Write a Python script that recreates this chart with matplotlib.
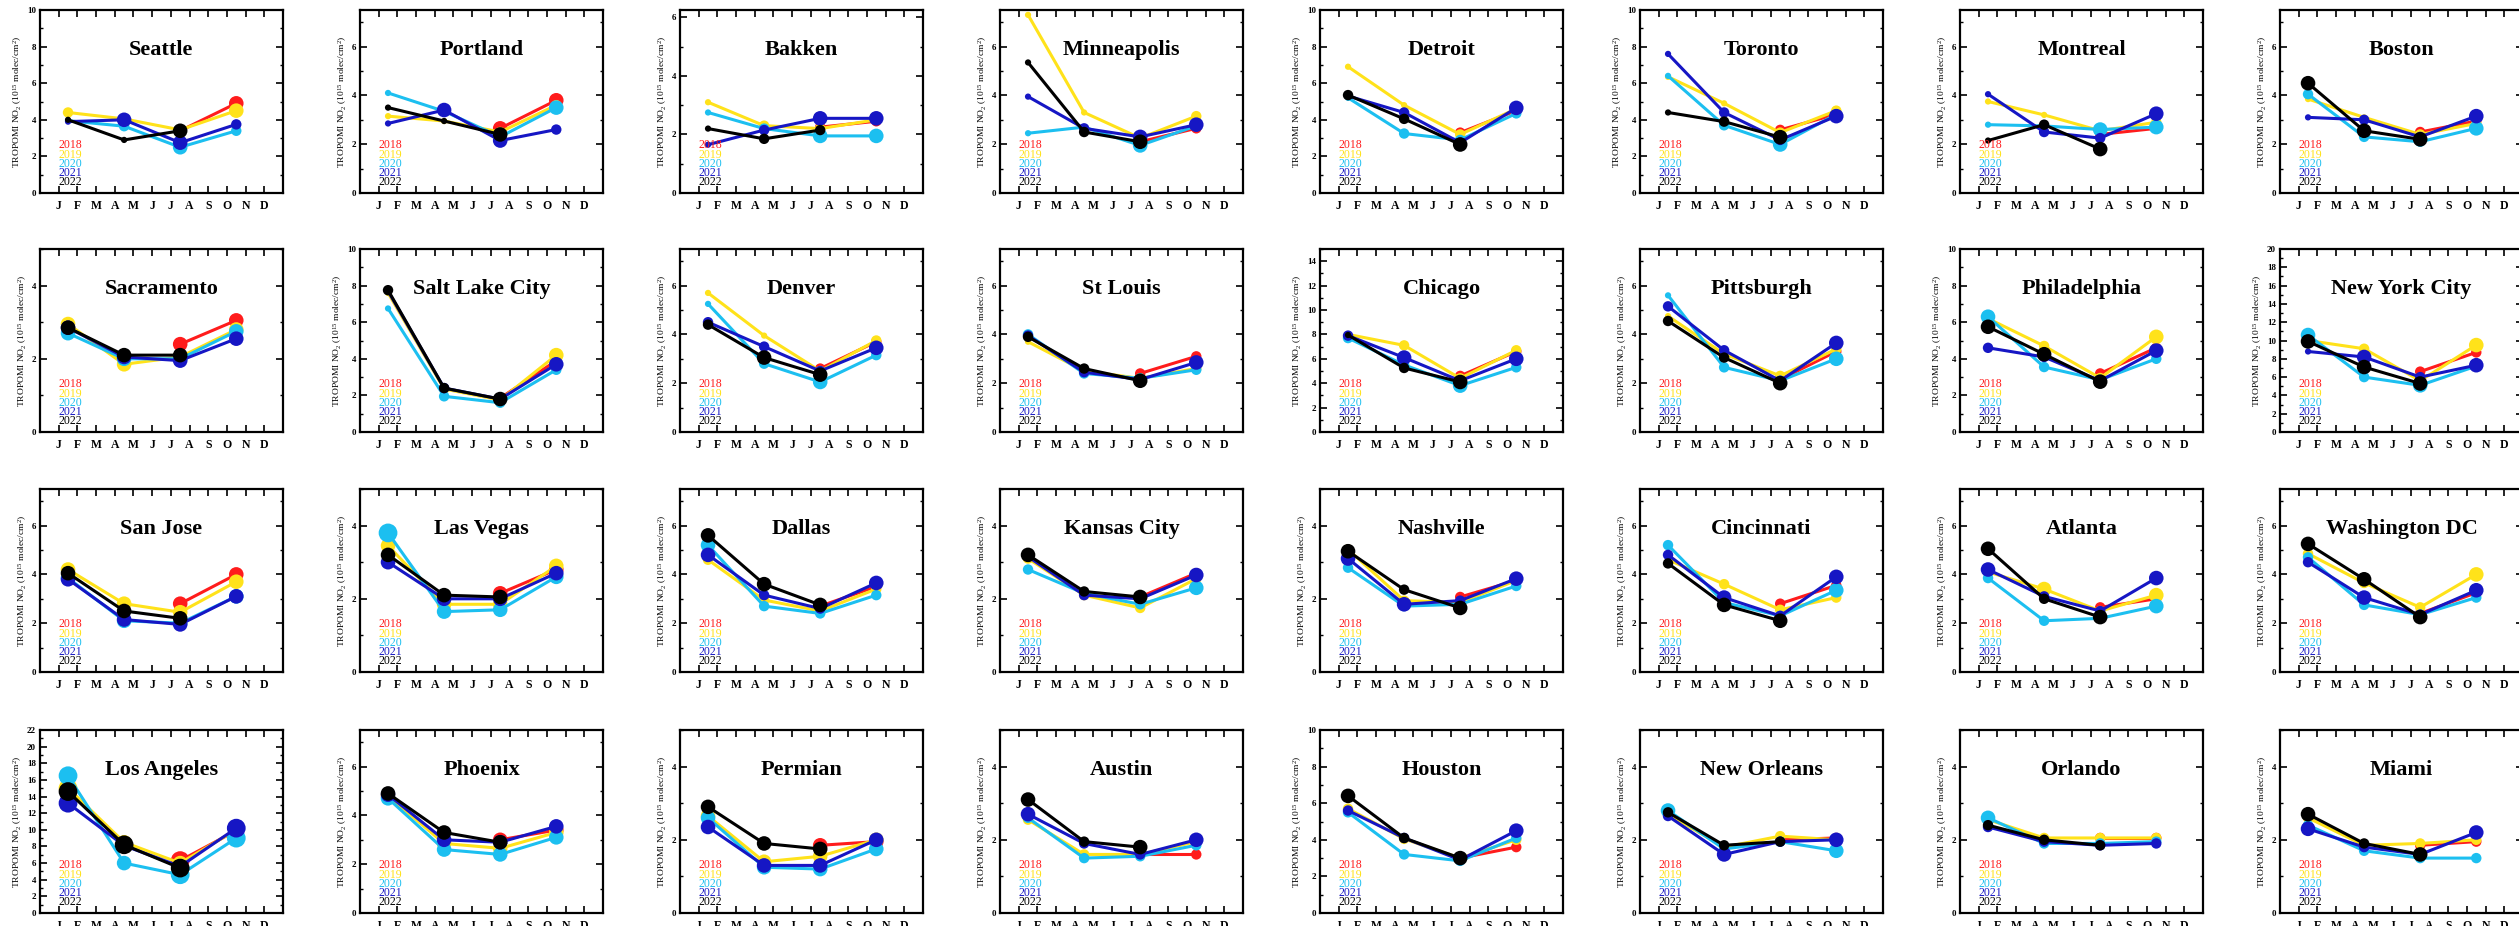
import numpy as np
import matplotlib
matplotlib.use("Agg")
import matplotlib.pyplot as plt
from matplotlib.ticker import MultipleLocator

plt.rcParams['font.family'] = ['Liberation Serif', 'DejaVu Serif']
plt.rcParams['mathtext.default'] = 'regular'

cities = ["Seattle", "Portland", "Bakken", "Minneapolis", "Detroit", "Toronto", "Montreal", "Boston",
          "Sacramento", "Salt Lake City", "Denver", "St Louis", "Chicago", "Pittsburgh", "Philadelphia", "New York City",
          "San Jose", "Las Vegas", "Dallas", "Kansas City", "Nashville", "Cincinnati", "Atlanta", "Washington DC",
          "Los Angeles", "Phoenix", "Permian", "Austin", "Houston", "New Orleans", "Orlando", "Miami"]
ymax = [10, 7.5, 6.25, 7.5, 10, 10, 7.5, 7.5,
        5, 10, 7.5, 7.5, 15, 7.5, 10, 20,
        7.5, 5, 7.5, 5, 5, 7.5, 7.5, 7.5,
        22, 7.5, 5, 5, 10, 5, 5, 5]

months = list("JFMAMJJASOND")
season_x = [1.5, 4.5, 7.5, 10.5]   # DJF, MAM, JJA, SON
years = ["2018", "2019", "2020", "2021", "2022"]
colors = ["#ff1c1c", "#ffe21a", "#1cbff0", "#1616c4", "#000000"]

# 2018: JJA, SON only
no2_2018 = [[3.4, 4.9], [2.65, 3.8], [2.25, 2.45], [2.1, 2.65], [3.3, 4.5], [3.45, 4.3], [2.4, 2.65], [2.5, 2.95],
            [2.4, 3.05], [1.85, 3.9], [2.6, 3.7], [2.4, 3.1], [4.6, 6.6], [2.15, 3.3], [3.2, 4.6], [6.6, 8.7],
            [2.8, 4.0], [2.15, 2.8], [2.7, 3.5], [2.05, 2.7], [2.05, 2.5], [2.8, 3.55], [2.65, 3.0], [2.4, 3.25],
            [6.3, 9.9], [3.0, 3.4], [1.85, 1.95], [1.6, 1.6], [3.0, 3.6], [2.0, 2.05], [2.05, 2.05], [1.85, 1.95]]
no2_2019 = [[4.4, 4.05, 3.45, 4.5], [3.15, 2.95, 2.5, 3.6], [3.1, 2.3, 2.2, 2.5], [7.3, 3.3, 2.25, 3.15],
            [6.9, 4.8, 3.2, 4.6], [6.35, 4.9, 3.3, 4.5], [3.75, 3.2, 2.55, 2.9], [3.85, 3.1, 2.4, 2.85],
            [2.95, 1.85, 2.05, 2.8], [7.6, 2.35, 1.75, 4.2], [5.7, 3.95, 2.5, 3.75], [3.7, 2.5, 2.2, 2.6],
            [8.0, 7.1, 4.4, 6.7], [4.75, 3.2, 2.3, 3.4], [6.2, 4.7, 2.95, 5.2], [10.0, 9.1, 5.6, 9.5],
            [4.2, 2.8, 2.45, 3.7], [3.45, 1.85, 1.85, 2.9], [4.6, 2.95, 2.5, 3.4], [3.1, 2.1, 1.75, 2.55],
            [3.35, 1.95, 1.9, 2.5], [4.6, 3.6, 2.55, 3.05], [4.1, 3.4, 2.5, 3.15], [4.85, 3.65, 2.65, 4.0],
            [15.0, 8.5, 6.0, 10.0], [4.8, 2.85, 2.65, 3.3], [2.65, 1.4, 1.55, 2.0], [2.55, 1.6, 1.6, 1.95],
            [5.7, 4.05, 3.0, 4.0], [2.7, 1.8, 2.1, 2.0], [2.55, 2.05, 2.05, 2.05], [2.6, 1.85, 1.9, 2.0]]
no2_2020 = [[3.95, 3.65, 2.5, 3.4], [4.1, 3.35, 2.3, 3.5], [2.75, 2.2, 1.95, 1.95], [2.45, 2.7, 1.95, 2.75],
            [5.2, 3.25, 2.9, 4.35], [6.4, 3.7, 2.65, 4.3], [2.8, 2.75, 2.6, 2.7], [4.05, 2.3, 2.1, 2.65],
            [2.7, 2.0, 2.0, 2.75], [6.75, 1.95, 1.6, 3.4], [5.25, 2.8, 2.05, 3.15], [4.0, 2.4, 2.2, 2.55],
            [7.7, 5.5, 3.8, 5.3], [5.6, 2.65, 2.1, 3.0], [6.3, 3.55, 2.85, 4.0], [10.6, 6.0, 5.1, 7.2],
            [3.85, 2.1, 2.0, 3.1], [3.8, 1.65, 1.7, 2.6], [5.2, 2.7, 2.4, 3.15], [2.8, 2.15, 1.85, 2.3],
            [2.85, 1.8, 1.85, 2.35], [5.2, 2.85, 2.3, 3.35], [3.85, 2.1, 2.2, 2.7], [4.7, 2.75, 2.35, 3.05],
            [16.5, 6.0, 4.6, 9.0], [4.7, 2.6, 2.4, 3.1], [2.6, 1.25, 1.2, 1.75], [2.6, 1.5, 1.55, 1.85],
            [5.5, 3.2, 2.85, 4.1], [2.8, 1.75, 1.95, 1.7], [2.6, 1.9, 1.9, 1.95], [2.4, 1.7, 1.5, 1.5]]
no2_2021 = [[3.9, 4.0, 2.75, 3.75], [2.85, 3.4, 2.15, 2.6], [1.65, 2.15, 2.55, 2.55], [3.95, 2.65, 2.3, 2.8],
            [5.3, 4.4, 2.75, 4.65], [7.6, 4.4, 2.9, 4.2], [4.05, 2.5, 2.25, 3.25], [3.1, 3.0, 2.3, 3.15],
            [2.85, 2.05, 1.95, 2.55], [7.7, 2.4, 1.8, 3.7], [4.5, 3.5, 2.5, 3.45], [3.95, 2.45, 2.15, 2.85],
            [7.9, 6.1, 4.2, 6.0], [5.15, 3.35, 2.1, 3.65], [4.6, 4.1, 2.8, 4.45], [8.8, 8.2, 6.0, 7.3],
            [3.8, 2.15, 1.95, 3.1], [3.0, 2.0, 2.0, 2.7], [4.8, 3.15, 2.6, 3.65], [3.15, 2.1, 2.0, 2.65],
            [3.1, 1.85, 1.95, 2.55], [4.8, 3.05, 2.3, 3.9], [4.2, 3.1, 2.5, 3.85], [4.5, 3.05, 2.35, 3.35],
            [13.2, 8.1, 5.6, 10.2], [4.85, 3.0, 2.9, 3.55], [2.35, 1.3, 1.3, 2.0], [2.7, 1.9, 1.6, 2.0],
            [5.6, 4.1, 2.9, 4.5], [2.65, 1.6, 1.95, 2.0], [2.35, 1.95, 1.85, 1.9], [2.3, 1.8, 1.6, 2.2]]
# 2022: DJF, MAM, JJA only
no2_2022 = [[4.0, 2.9, 3.4], [3.5, 2.95, 2.4], [2.2, 1.85, 2.15], [5.35, 2.5, 2.1],
            [5.35, 4.05, 2.65], [4.4, 3.9, 3.05], [2.15, 2.8, 1.8], [4.5, 2.55, 2.2],
            [2.85, 2.1, 2.1], [7.75, 2.4, 1.8], [4.4, 3.05, 2.35], [3.9, 2.6, 2.1],
            [7.95, 5.25, 4.1], [4.55, 3.05, 2.0], [5.75, 4.25, 2.75], [9.9, 7.1, 5.3],
            [4.05, 2.5, 2.2], [3.2, 2.1, 2.05], [5.6, 3.6, 2.75], [3.2, 2.2, 2.05],
            [3.3, 2.25, 1.75], [4.45, 2.75, 2.1], [5.05, 3.0, 2.25], [5.25, 3.8, 2.25],
            [14.6, 8.2, 5.4], [4.9, 3.3, 2.9], [2.9, 1.9, 1.75], [3.1, 1.95, 1.8],
            [6.4, 4.1, 3.0], [2.75, 1.85, 1.95], [2.4, 2.0, 1.85], [2.7, 1.9, 1.6]]

# relative dot size class (1 small .. 4 largest)
dot_2018 = [[2, 3], [3, 3], [2, 2], [2, 2], [2, 2], [2, 2], [2, 2], [2, 2],
            [3, 3], [2, 2], [2, 2], [2, 2], [2, 2], [2, 2], [2, 2], [2, 2],
            [3, 3], [3, 3], [2, 2], [2, 2], [2, 2], [2, 2], [2, 2], [2, 2],
            [4, 3], [3, 3], [3, 3], [2, 2], [2, 2], [2, 2], [2, 2], [2, 2]]
dot_2019 = [[2, 2, 2, 3], [1, 1, 2, 2], [1, 2, 2, 2], [1, 1, 2, 2], [1, 1, 2, 2], [1, 1, 2, 2], [1, 1, 2, 2], [1, 1, 2, 2],
            [3, 3, 3, 3], [1, 2, 2, 3], [1, 1, 2, 2], [1, 1, 2, 2], [1, 2, 2, 2], [1, 2, 2, 2], [2, 2, 2, 3], [2, 2, 2, 3],
            [3, 3, 3, 3], [3, 3, 3, 3], [2, 2, 2, 2], [2, 2, 2, 2], [2, 2, 2, 2], [1, 2, 2, 2], [2, 3, 2, 3], [2, 2, 2, 3],
            [4, 3, 3, 3], [3, 3, 3, 3], [3, 3, 3, 3], [2, 2, 2, 2], [2, 2, 2, 2], [2, 2, 2, 2], [2, 2, 2, 2], [2, 2, 2, 2]]
dot_2020 = [[1, 2, 3, 2], [1, 2, 2, 3], [1, 2, 3, 3], [1, 1, 3, 2], [1, 2, 2, 2], [1, 2, 3, 2], [1, 1, 3, 3], [2, 2, 2, 3],
            [3, 3, 3, 3], [1, 2, 2, 2], [1, 2, 3, 2], [2, 2, 2, 2], [2, 2, 3, 2], [1, 2, 2, 3], [3, 2, 2, 2], [3, 2, 3, 2],
            [3, 3, 3, 3], [4, 3, 3, 3], [3, 2, 2, 2], [2, 2, 2, 3], [2, 2, 2, 2], [2, 2, 2, 3], [2, 2, 2, 3], [2, 2, 2, 2],
            [4, 3, 4, 4], [3, 3, 3, 3], [3, 3, 3, 3], [2, 2, 2, 2], [2, 2, 2, 2], [3, 2, 2, 3], [3, 2, 2, 2], [2, 2, 2, 2]]
dot_2021 = [[1, 3, 3, 2], [1, 3, 3, 2], [1, 2, 3, 3], [1, 2, 3, 3], [1, 2, 2, 3], [1, 2, 2, 3], [1, 2, 2, 3], [1, 2, 2, 3],
            [3, 3, 3, 3], [1, 2, 2, 3], [2, 2, 2, 3], [2, 2, 2, 3], [2, 3, 2, 3], [2, 2, 2, 3], [2, 2, 2, 3], [1, 3, 2, 3],
            [3, 3, 3, 3], [3, 3, 3, 3], [3, 2, 2, 3], [2, 2, 2, 3], [3, 3, 2, 3], [2, 3, 2, 3], [3, 2, 2, 3], [2, 3, 2, 3],
            [4, 3, 3, 4], [3, 3, 3, 3], [3, 3, 3, 3], [3, 2, 2, 3], [2, 2, 2, 3], [2, 3, 2, 3], [2, 2, 2, 2], [3, 2, 2, 3]]
dot_2022 = [[1, 1, 3], [1, 1, 3], [1, 2, 2], [1, 2, 3], [2, 2, 3], [1, 2, 3], [1, 2, 3], [3, 3, 3],
            [3, 3, 3], [2, 2, 3], [2, 3, 3], [2, 2, 3], [1, 2, 3], [2, 2, 3], [3, 3, 3], [3, 3, 3],
            [3, 3, 3], [3, 3, 3], [3, 3, 3], [3, 2, 3], [3, 2, 3], [2, 3, 3], [3, 2, 3], [3, 3, 3],
            [4, 4, 4], [3, 3, 3], [3, 3, 3], [3, 2, 3], [3, 2, 3], [2, 2, 2], [2, 2, 2], [3, 2, 3]]

series = [(no2_2018, dot_2018, [2, 3]),
          (no2_2019, dot_2019, [0, 1, 2, 3]),
          (no2_2020, dot_2020, [0, 1, 2, 3]),
          (no2_2021, dot_2021, [0, 1, 2, 3]),
          (no2_2022, dot_2022, [0, 1, 2])]
msize = {1: 4.5, 2: 7.5, 3: 10.5, 4: 13.5}

W, H = 2519, 926
row_top = [10, 249, 489, 730]
fig = plt.figure(figsize=(W / 100, H / 100), dpi=100)

for k, city in enumerate(cities):
    r, c = divmod(k, 8)
    ax = fig.add_axes([(40 + 320 * c) / W, 1 - (row_top[r] + 183) / H, 243 / W, 183 / H])

    for yi, (vals, dots, idx) in enumerate(series):
        xs = [season_x[i] for i in idx]
        ys = vals[k]
        ss = [msize[d] ** 2 for d in dots[k]]
        ax.plot(xs, ys, color=colors[yi], lw=2.2, zorder=2 + 2 * yi)
        ax.scatter(xs, ys, s=ss, color=colors[yi], zorder=3 + 2 * yi, linewidths=0)

    ax.set_xlim(0, 13)
    ax.set_ylim(0, ymax[k])
    ax.set_xticks(range(1, 13))
    ax.set_xticklabels(months, fontsize=8.5, fontweight='bold')
    ax.yaxis.set_major_locator(MultipleLocator(2))
    ax.yaxis.set_minor_locator(MultipleLocator(1))
    for t in ax.get_yticklabels():
        t.set_fontsize(6.5)
        t.set_fontweight('bold')
    ax.tick_params(which='major', direction='in', top=True, right=True, length=5, width=1.2, pad=3)
    ax.tick_params(which='minor', direction='in', right=True, length=2.5, width=1)
    ax.tick_params(axis='x', pad=5)
    for sp in ax.spines.values():
        sp.set_linewidth(1.6)

    ax.set_ylabel('TROPOMI NO$_2$ (10$^{15}$ molec/cm$^2$)', fontsize=6.8, labelpad=2)
    ax.text(0.5, 0.78, city, transform=ax.transAxes, ha='center', va='center',
            fontsize=16, fontweight='bold')
    for yi, yr in enumerate(years):
        ax.text(0.075, 0.26 - 0.05 * yi, yr, transform=ax.transAxes, color=colors[yi],
                fontsize=8.5, va='center', ha='left', zorder=20)

fig.savefig('out.png', dpi=100)
